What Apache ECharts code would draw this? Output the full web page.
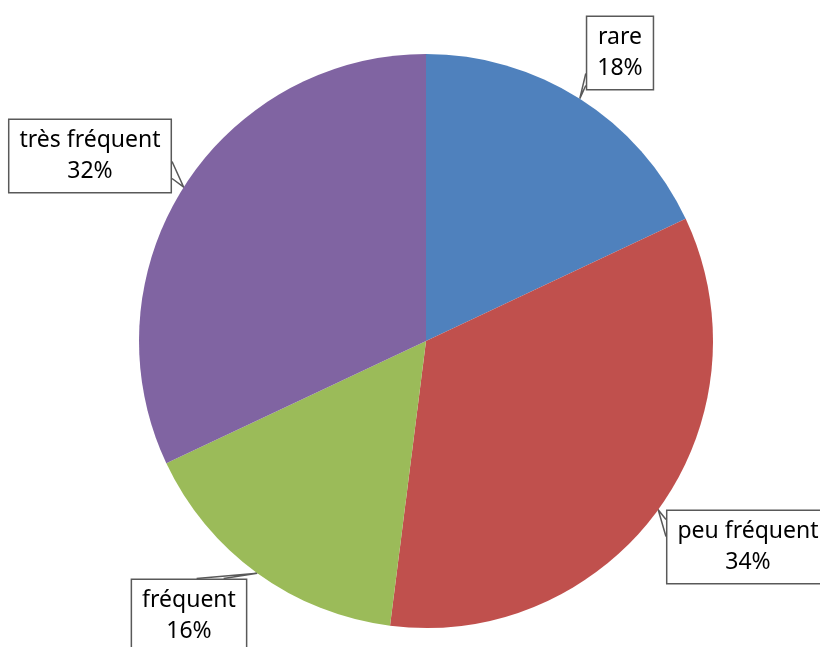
<!DOCTYPE html>
<html>
<head>
<meta charset="utf-8">
<script src="https://cdn.jsdelivr.net/npm/echarts@6/dist/echarts.min.js"></script>
<style>
  html, body { margin: 0; padding: 0; background: #fff; }
  #chart { width: 820px; height: 647px; }
</style>
</head>
<body>
<div id="chart"></div>
<script>
// Fréquence observée, en pourcentage
const categories = ['rare', 'peu fréquent', 'fréquent', 'très fréquent'];
const values = [18, 34, 16, 32];
const colors = ['#4F81BD', '#C0504D', '#9BBB59', '#8064A2'];

// Centre of each callout box, in pixels
const calloutPos = [
  [620, 53],
  [748, 547],
  [189, 616],
  [90, 156]
];

// Side of the box the callout pointer leaves from, and the span along that side (px from its start)
const pointerBase = [
  { side: 'left',  from: 58, to: 70 },
  { side: 'left',  from: 10, to: 27 },
  { side: 'top',   from: 66, to: 93 },
  { side: 'right', from: 43, to: 60 }
];

// Wide series viewport so outside labels are never squeezed by the canvas edge
const VIEW_PAD = 400;

const chart = echarts.init(document.getElementById('chart'), null, { renderer: 'canvas' });

function pointerPoints(tip, cx, cy, w, h, base) {
  const left = cx - w / 2, right = cx + w / 2, top = cy - h / 2;
  let a, b;
  if (base.side === 'left') { a = [left, top + base.from]; b = [left, top + base.to]; }
  else if (base.side === 'right') { a = [right, top + base.from]; b = [right, top + base.to]; }
  else { a = [left + base.from, top]; b = [left + base.to, top]; }
  return [a, tip, b];
}

chart.setOption({
  animation: false,
  series: [{
    type: 'pie',
    left: -VIEW_PAD,
    right: -VIEW_PAD,
    top: 0,
    bottom: 0,
    center: [426 + VIEW_PAD, 341],
    radius: 287,
    startAngle: 90,
    clockwise: true,
    data: categories.map((name, i) => ({
      name,
      value: values[i],
      itemStyle: { color: colors[i] }
    })),
    itemStyle: { borderWidth: 0 },
    label: {
      show: true,
      position: 'outside',
      formatter: '{b}\n{d}%',
      fontFamily: 'Noto Sans',
      fontSize: 23,
      lineHeight: 31,
      color: '#000',
      align: 'center',
      overflow: 'none',
      backgroundColor: '#fff',
      borderColor: '#595959',
      borderWidth: 1.5,
      padding: [5, 10, 5, 10]
    },
    labelLine: {
      show: true,
      length: 10,
      length2: 10,
      lineStyle: { color: '#595959', width: 1.5 }
    },
    labelLayout: function (params) {
      const i = params.dataIndex;
      const p = calloutPos[i];
      const w = params.labelRect.width, h = params.labelRect.height;
      const tip = params.labelLinePoints[0];
      return {
        x: p[0],
        y: p[1],
        align: 'center',
        verticalAlign: 'middle',
        labelLinePoints: pointerPoints(tip, p[0], p[1], w, h, pointerBase[i])
      };
    },
    emphasis: { disabled: true }
  }]
});
</script>
</body>
</html>
